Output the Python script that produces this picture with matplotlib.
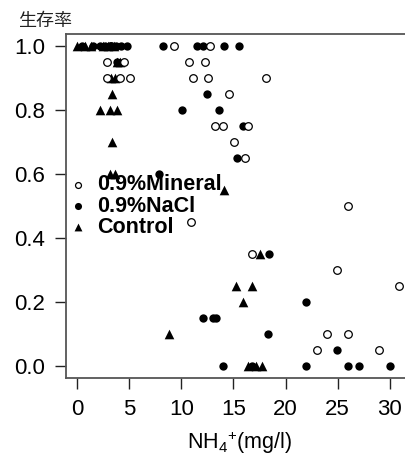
import matplotlib
matplotlib.use("Agg")
import matplotlib.pyplot as plt

plt.rcParams['font.family'] = ['Liberation Sans', 'DejaVu Sans']
plt.rcParams['mathtext.fontset'] = 'custom'
plt.rcParams['mathtext.rm'] = 'Liberation Sans'
plt.rcParams['mathtext.it'] = 'Liberation Sans:italic'

# ---- data ----
mineral_x = [3.3, 9.3, 12.8,
             2.9, 4.5, 10.7, 12.3,
             2.9, 4.1, 5.1, 11.1, 12.6, 18.1,
             14.6,
             13.2, 14.0, 16.4,
             15.1, 16.1, 10.9, 26.0, 16.8, 24.9, 30.9,
             24.0, 26.0, 23.0, 29.0]
mineral_y = [1.0, 1.0, 1.0,
             0.95, 0.95, 0.95, 0.95,
             0.9, 0.9, 0.9, 0.9, 0.9, 0.9,
             0.85,
             0.75, 0.75, 0.75,
             0.7, 0.65, 0.45, 0.5, 0.35, 0.3, 0.25,
             0.1, 0.1, 0.05, 0.05]

nacl_x = [0.5, 1.5, 2.2, 2.7, 3.2, 3.7, 4.2, 4.8, 8.2, 11.5, 12.1, 14.1, 15.5,
          3.8,
          12.5, 10.1, 13.6, 15.9, 15.3, 7.9, 18.4, 22.0,
          12.1, 13.0, 13.3, 18.3, 24.9,
          14.0, 16.8, 22.0, 26.0, 27.0, 30.0]
nacl_y = [1.0, 1.0, 1.0, 1.0, 1.0, 1.0, 1.0, 1.0, 1.0, 1.0, 1.0, 1.0, 1.0,
          0.95,
          0.85, 0.8, 0.8, 0.75, 0.65, 0.6, 0.35, 0.2,
          0.15, 0.15, 0.15, 0.1, 0.05,
          0.0, 0.0, 0.0, 0.0, 0.0, 0.0]

control_x = [0.0, 0.8, 1.3, 2.5, 3.0, 3.5,
             3.8, 4.1, 3.3, 3.6, 3.4,
             2.2, 3.2, 3.8, 3.4, 3.2, 3.6,
             14.1, 17.5, 15.2, 16.8, 15.9, 8.8,
             16.4, 17.2, 17.7]
control_y = [1.0, 1.0, 1.0, 1.0, 1.0, 1.0,
             0.95, 0.95, 0.9, 0.9, 0.85,
             0.8, 0.8, 0.8, 0.7, 0.6, 0.6,
             0.55, 0.35, 0.25, 0.25, 0.2, 0.1,
             0.0, 0.0, 0.0]

labels = ['0.9%Mineral', '0.9%NaCl', 'Control']
xticks = [0, 5, 10, 15, 20, 25, 30]
yticks = [0.0, 0.2, 0.4, 0.6, 0.8, 1.0]

# ---- figure ----
W, H = 406, 457
fig = plt.figure(figsize=(W / 100, H / 100), dpi=100)
left_px, right_px, top_px, bot_px = 66, 412.8, 34, 378
ax = fig.add_axes([left_px / W, 1 - bot_px / H, (right_px - left_px) / W, (bot_px - top_px) / H])
ax.set_xlim(-1.055, 32.2)
ax.set_ylim(-0.0375, 1.0375)

ax.scatter(mineral_x[:1], mineral_y[:1], marker='o', s=30, facecolors='white',
           edgecolors='black', linewidths=0.9, zorder=2)
ax.scatter(control_x, control_y, marker='^', s=48, c='black', linewidths=0, zorder=3)
ax.scatter(nacl_x, nacl_y, marker='o', s=36, c='black', linewidths=0, zorder=4)
ax.scatter(mineral_x[1:], mineral_y[1:], marker='o', s=30, facecolors='white',
           edgecolors='black', linewidths=0.9, zorder=5)

ax.set_xticks(xticks)
ax.set_yticks(yticks)
ax.set_xticklabels([str(v) for v in xticks])
ax.set_yticklabels(['%.1f' % v for v in yticks])
ax.tick_params(axis='both', direction='out', length=8, width=1.0, colors='#222222',
               labelsize=16, labelcolor='black')
ax.tick_params(axis='x', pad=7)
ax.tick_params(axis='y', pad=7)

for s in ['left', 'top', 'bottom']:
    ax.spines[s].set_color('#555555')
    ax.spines[s].set_linewidth(1.3)
ax.spines['right'].set_visible(False)

ax.set_xlabel(r'NH$_4$$^{+}$(mg/l)', fontsize=15.5, labelpad=7)

fig.text(18 / W, 1 - 21 / H, '生存率', fontsize=13, color='#222222',
         family=['Noto Sans CJK JP', 'DejaVu Sans'], ha='left', va='center')

# legend (manual)
tf = fig.transFigure
leg_rows = [185, 206, 227]
ax.scatter([78 / W], [1 - leg_rows[0] / H], transform=tf, marker='o', s=18,
           facecolors='white', edgecolors='black', linewidths=0.9, clip_on=False)
ax.scatter([78 / W], [1 - leg_rows[1] / H], transform=tf, marker='o', s=26,
           c='black', linewidths=0, clip_on=False)
ax.scatter([78 / W], [1 - leg_rows[2] / H], transform=tf, marker='^', s=32,
           c='black', linewidths=0, clip_on=False)
for lab, yp in zip(labels, leg_rows):
    fig.text(97 / W, 1 - yp / H, lab, fontsize=15.5, fontweight='bold',
             ha='left', va='center', color='black')

fig.savefig('out.png', dpi=100)
